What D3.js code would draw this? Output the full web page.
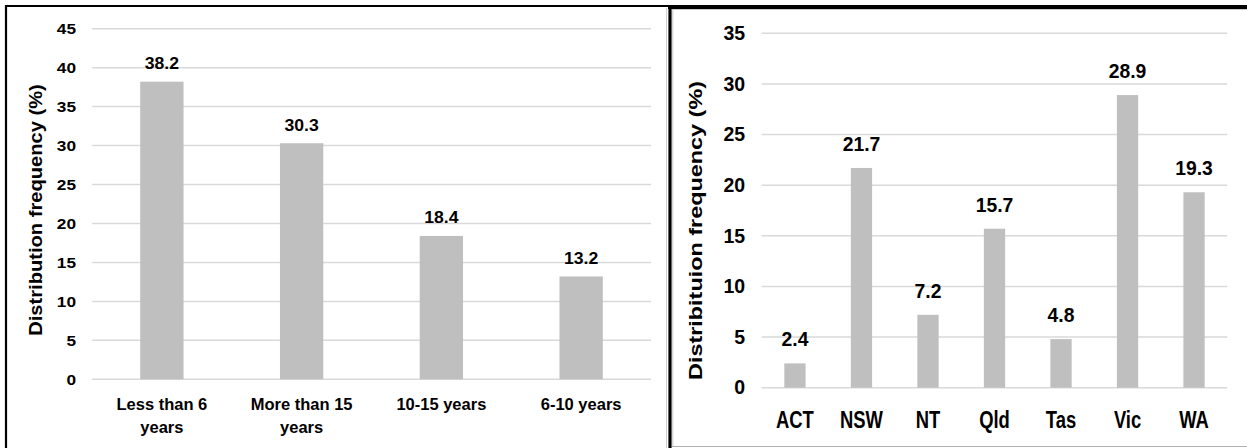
<!DOCTYPE html>
<html>
<head>
<meta charset="utf-8">
<script src="https://cdn.jsdelivr.net/npm/d3@7"></script>
<style>
  html, body { margin: 0; padding: 0; background: #ffffff; }
  svg { display: block; }
  text { font-family: "Liberation Sans", Arial, sans-serif; font-weight: bold; fill: #000; }
</style>
</head>
<body>
<svg id="chart" width="1247" height="448"></svg>
<script>
// ---- Data: left panel (years of experience) ----
const leftCategories = ["Less than 6\nyears", "More than 15\nyears", "10-15 years", "6-10 years"];
const leftValues = [38.2, 30.3, 18.4, 13.2];
const leftTicks = [0, 5, 10, 15, 20, 25, 30, 35, 40, 45];
const leftTitle = "Distribution frequency (%)";

// ---- Data: right panel (state / territory) ----
const rightCategories = ["ACT", "NSW", "NT", "Qld", "Tas", "Vic", "WA"];
const rightValues = [2.4, 21.7, 7.2, 15.7, 4.8, 28.9, 19.3];
const rightTicks = [0, 5, 10, 15, 20, 25, 30, 35];
const rightTitle = "Distribituion frequency (%)";

const svg = d3.select("#chart");
const BAR = "#bfbfbf", GRID = "#d9d9d9";

function stretch(sel, k) {
  sel.each(function () {
    const len = this.getComputedTextLength();
    if (len > 0) {
      d3.select(this).attr("textLength", len * k).attr("lengthAdjust", "spacingAndGlyphs");
    }
  });
}

function panel(cfg) {
  const g = svg.append("g");
  const x = d3.scaleBand().domain(cfg.categories).range(cfg.xRange)
    .paddingInner(cfg.pad).paddingOuter(cfg.pad / 2);
  const y = d3.scaleLinear().domain([0, d3.max(cfg.ticks)]).range(cfg.yRange);

  // gridlines
  g.append("g").selectAll("line").data(cfg.ticks).join("line")
    .attr("x1", cfg.xRange[0]).attr("x2", cfg.xRange[1])
    .attr("y1", d => y(d)).attr("y2", d => y(d))
    .attr("stroke", GRID).attr("stroke-width", 1.5);

  // y axis labels via d3 axis
  const ax = g.append("g").attr("transform", `translate(${cfg.xRange[0]},0)`)
    .call(d3.axisLeft(y).tickValues(cfg.ticks).tickSize(0).tickPadding(cfg.tickPad));
  ax.select(".domain").remove();
  ax.selectAll("text").style("font-size", cfg.tickFont + "px")
    .style("font-family", '"Liberation Sans", Arial, sans-serif').style("font-weight", "bold")
    .attr("fill", "#000");
  stretch(ax.selectAll("text"), cfg.tickK);

  // bars
  g.append("g").selectAll("rect").data(cfg.values).join("rect")
    .attr("x", (d, i) => x(cfg.categories[i]))
    .attr("width", x.bandwidth())
    .attr("y", d => y(d))
    .attr("height", d => y(0) - y(d))
    .attr("fill", BAR);

  // value labels
  const vl = g.append("g").selectAll("text").data(cfg.values).join("text")
    .attr("x", (d, i) => x(cfg.categories[i]) + x.bandwidth() / 2)
    .attr("y", d => y(d) - cfg.valGap)
    .attr("text-anchor", "middle")
    .style("font-size", cfg.valFont + "px")
    .text(d => d.toFixed(1));
  stretch(vl, cfg.valK);

  // category labels
  const cl = g.append("g").selectAll("text").data(cfg.categories).join("text")
    .attr("text-anchor", "middle")
    .style("font-size", cfg.catFont + "px");
  cl.each(function (d) {
    const t = d3.select(this);
    const cx = x(d) + x.bandwidth() / 2;
    d.split("\n").forEach((line, j) => {
      t.append("tspan").attr("x", cx).attr("y", cfg.catY + j * cfg.catLine).text(line);
    });
  });
  cl.selectAll("tspan").each(function () {
    const len = this.getComputedTextLength();
    d3.select(this).attr("textLength", len * cfg.catK).attr("lengthAdjust", "spacingAndGlyphs");
  });

  // y title
  const tt = g.append("text")
    .attr("transform", `translate(${cfg.titleX},${cfg.titleY}) rotate(-90)`)
    .attr("text-anchor", "middle")
    .attr("dy", "0.35em")
    .style("font-size", cfg.titleFont + "px")
    .text(cfg.title);
  stretch(tt, cfg.titleK);
}

panel({
  categories: leftCategories, values: leftValues, ticks: leftTicks, title: leftTitle,
  xRange: [92, 651], yRange: [379.3, 28.7], pad: 0.69,
  tickFont: 15, tickK: 1.15, tickPad: 16,
  valFont: 16, valK: 1.1, valGap: 12.7,
  catFont: 16.5, catK: 1.0, catY: 410, catLine: 22.5,
  titleFont: 17.5, titleK: 1.15, titleX: 36, titleY: 210
});

panel({
  categories: rightCategories, values: rightValues, ticks: rightTicks, title: rightTitle,
  xRange: [761.7, 1227.3], yRange: [387.7, 33.3], pad: 0.68,
  tickFont: 19.5, tickK: 1.0, tickPad: 16.5,
  valFont: 21, valK: 0.92, valGap: 17,
  catFont: 23, catK: 0.8, catY: 427.7, catLine: 0,
  titleFont: 18, titleK: 1.3, titleX: 696, titleY: 230.5
});

// panel frames
const fr = svg.append("g");
fr.append("line").attr("x1", 666.5).attr("x2", 666.5).attr("y1", 8).attr("y2", 448).attr("stroke", "#d0d0d0").attr("stroke-width", 1);
fr.append("line").attr("x1", 672.8).attr("x2", 672.8).attr("y1", 9).attr("y2", 447).attr("stroke", "#c8c8c8").attr("stroke-width", 1);
fr.append("line").attr("x1", 672).attr("x2", 1247).attr("y1", 446.5).attr("y2", 446.5).attr("stroke", "#b0b0b0").attr("stroke-width", 1);
fr.append("line").attr("x1", 672).attr("x2", 1247).attr("y1", 9.5).attr("y2", 9.5).attr("stroke", "#c8c8c8").attr("stroke-width", 1);
fr.append("line").attr("x1", 6).attr("x2", 6).attr("y1", 5).attr("y2", 448).attr("stroke", "#000").attr("stroke-width", 2.2);
fr.append("line").attr("x1", 5).attr("x2", 670).attr("y1", 6).attr("y2", 6).attr("stroke", "#000").attr("stroke-width", 2.2);
fr.append("line").attr("x1", 670).attr("x2", 670).attr("y1", 5).attr("y2", 448).attr("stroke", "#000").attr("stroke-width", 3.2);
fr.append("line").attr("x1", 668).attr("x2", 1247).attr("y1", 7).attr("y2", 7).attr("stroke", "#000").attr("stroke-width", 4);
</script>
</body>
</html>
